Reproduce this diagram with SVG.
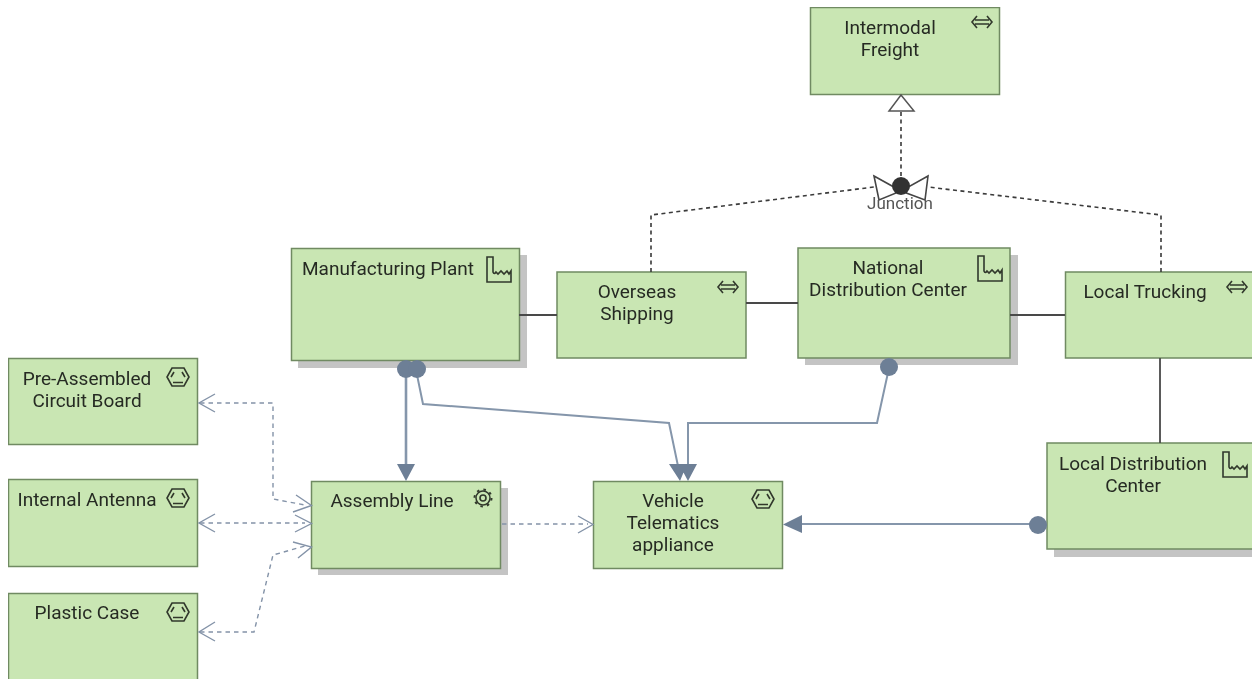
<svg xmlns="http://www.w3.org/2000/svg" width="1252" height="679" viewBox="0 0 1252 679">
<defs>
<style>
.b{fill:#c9e6b3;stroke:#6f8a62;stroke-width:1.5}
.s{fill:#c4c4c4}
text{font-family:Roboto,"Liberation Sans",sans-serif;font-size:19px;fill:#262b24;text-anchor:middle}
.j{font-size:17px;fill:#555}
.i{fill:none;stroke:#30382c;stroke-width:1.6}
.tl{fill:none;stroke:#4a4a4a;stroke-width:1.8}
.rl{fill:none;stroke:#3a3a3a;stroke-width:1.6;stroke-dasharray:4 3.500}
.d{fill:none;stroke:#8493a8;stroke-width:1.4;stroke-dasharray:4.500 4}
.h{fill:none;stroke:#8493a8;stroke-width:1.4}
.a{fill:none;stroke:#8596ab;stroke-width:2}
.t{fill:none;stroke:#8596ab;stroke-width:2.600}
.f{fill:#6d7f96}
</style>
<filter id="soft" x="0" y="0" width="100%" height="100%"><feGaussianBlur stdDeviation="0.4"/></filter>
<g id="prod"><path class="i" d="M-6 -9H6L11 0L6 9H-6L-11 0Z M-7 0L-4 -5 M7 0L4 -5 M-5 5.500H5"/></g>
<g id="fact"><path class="i" d="M-12 -12H-6V3Q-5 6 -3 3L-1 5L2 2L5 5L8 2L10 5L12 2V13H-12Z"/></g>
<g id="swap"><path class="i" d="M-7 -2H7 M-7 2H7 M-5 -6L-10 0L-5 6 M5 -6L10 0L5 6"/></g>
</defs>
<rect width="1252" height="679" fill="#fff"/>
<g filter="url(#soft)">
<g id="intermodal"><rect class="b" x="810.500" y="7.500" width="189" height="87"/><text x="890" y="34">Intermodal</text><text x="890" y="56">Freight</text><use href="#swap" x="982" y="22"/></g>
<g id="manufacturing"><rect class="s" x="298" y="255" width="229" height="113"/><rect class="b" x="291.500" y="248.500" width="228" height="112"/><text x="388" y="275">Manufacturing Plant</text><use href="#fact" x="499" y="269"/></g>
<g id="overseas"><rect class="b" x="557" y="272" width="189" height="86"/><text x="637" y="298">Overseas</text><text x="637" y="320">Shipping</text><use href="#swap" x="728" y="287"/></g>
<g id="national"><rect class="s" x="805" y="255" width="213" height="110"/><rect class="b" x="798" y="248" width="212" height="110"/><text x="888" y="274">National</text><text x="888" y="296">Distribution Center</text><use href="#fact" x="990" y="268"/></g>
<g id="trucking"><rect class="b" x="1065.500" y="272" width="190" height="86"/><text x="1145" y="298">Local Trucking</text><use href="#swap" x="1237" y="287"/></g>
<g id="localdc"><rect class="s" x="1054" y="450" width="205" height="107"/><rect class="b" x="1047" y="443" width="210" height="106"/><text x="1133" y="470">Local Distribution</text><text x="1133" y="492">Center</text><use href="#fact" x="1235" y="464"/></g>
<g id="pre"><rect class="b" x="8.500" y="358.500" width="189" height="86"/><text x="87" y="385">Pre-Assembled</text><text x="87" y="407">Circuit Board</text><use href="#prod" x="178" y="377"/></g>
<g id="antenna"><rect class="b" x="8.500" y="479.500" width="189" height="87"/><text x="87" y="506">Internal Antenna</text><use href="#prod" x="178" y="498"/></g>
<g id="plastic"><rect class="b" x="8.500" y="593.500" width="189" height="90"/><text x="87" y="619">Plastic Case</text><use href="#prod" x="178" y="612"/></g>
<g id="assembly"><rect class="s" x="318" y="488" width="190" height="87"/><rect class="b" x="311.500" y="481.500" width="189" height="87"/><text x="392" y="507">Assembly Line</text><g class="i" transform="translate(483 498)"><circle r="3"/><circle r="7" stroke-width="1.500"/><circle r="8.500" stroke-dasharray="2.500 4.200" stroke-width="2"/></g></g>
<g id="vehicle"><rect class="b" x="593.500" y="481.500" width="189" height="87"/><text x="673" y="507">Vehicle</text><text x="673" y="529">Telematics</text><text x="673" y="551">appliance</text><use href="#prod" x="763" y="499"/></g>
<g id="connectors">
<path class="tl" d="M519 315H557 M746 303H798 M1010 315H1065 M1160 358V443"/>
<path class="rl" d="M901 112V176 M651 272V215L874 187 M1161 272V215L928 187"/>
<polygon points="901,95 889,111 914,111" fill="#fff" stroke="#555" stroke-width="1.5"/>
<path class="d" d="M200 403H273V499L305 505 M200 523H305 M200 632H254L273 555L305 546 M502 524H588"/>
<path class="h" d="M215 394L199 403L215 412 M215 514L199 523L215 532 M215 622L199 632L215 641 M296 495L311.500 505.500L293 512 M295 515L311.500 523.500L295 532 M293 542L311.500 547L298 558 M578 516L593 524.500L578 533"/>
<path class="t" d="M406 368V466"/>
<path class="a" d="M416 370L423 404L669 423L678 466 M889 368L877 423H688V466 M1038 524H800"/>
<circle class="f" cx="406" cy="369" r="9"/>
<circle class="f" cx="417" cy="369" r="9"/>
<circle class="f" cx="889" cy="367" r="9"/>
<circle class="f" cx="1038" cy="525" r="9"/>
<path class="f" d="M397 464H415L406 481Z M669 464H687L680 481Z M679 464H697L688 481Z M802 515V533L783 524.500Z"/>
</g>
<g id="junction">
<path fill="#fff" stroke="#444" stroke-width="1.600" d="M874 176L901 191L879 200Z M928 176L901 191L925 200Z"/>
<circle cx="901" cy="186" r="9" fill="#333"/>
<text class="j" x="900" y="209">Junction</text>
</g>
</g>
</svg>
